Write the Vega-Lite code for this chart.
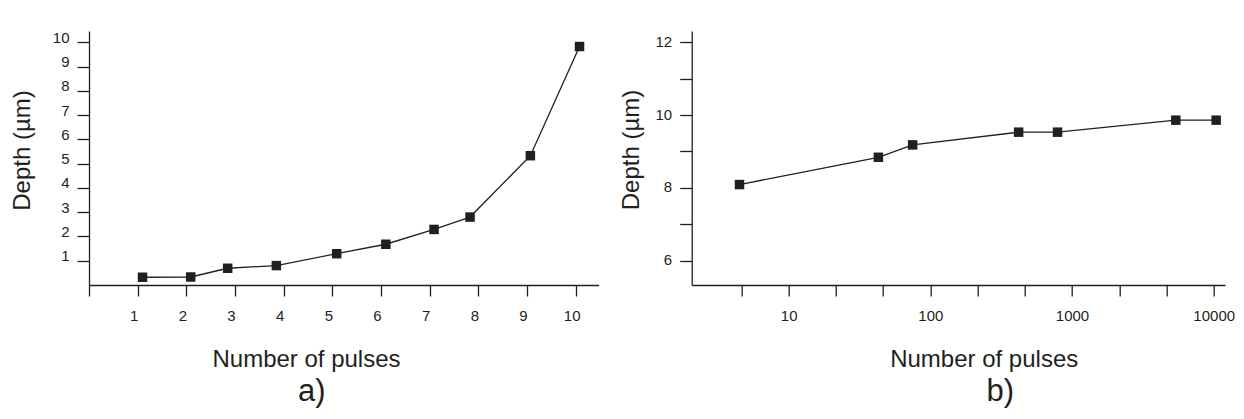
{
  "$schema": "https://vega.github.io/schema/vega-lite/v6.json",
  "background": "white",
  "padding": {"left": 9, "top": 30, "right": 5, "bottom": 5},
  "bounds": "flush",
  "spacing": 92.7,
  "config": {
    "view": {"stroke": null},
    "font": "Liberation Sans",
    "axis": {
      "grid": false,
      "domainColor": "#231f20",
      "tickColor": "#231f20",
      "labelColor": "#231f20",
      "titleColor": "#231f20",
      "domainWidth": 1.3,
      "tickWidth": 1.3,
      "labelFontSize": 15,
      "titleFontSize": 24,
      "titleFontWeight": "normal",
      "labelPadding": 8
    },
    "axisX": {"tickSize": 11, "labelPadding": 12},
    "axisY": {"tickSize": 12},
    "title": {"fontSize": 31, "fontWeight": "normal", "color": "#231f20", "font": "Liberation Sans"}
  },
  "datasets": {
    "a": [
      {"pulses": 1.10, "depth": 0.32},
      {"pulses": 2.09, "depth": 0.33},
      {"pulses": 2.85, "depth": 0.69},
      {"pulses": 3.85, "depth": 0.80},
      {"pulses": 5.09, "depth": 1.29},
      {"pulses": 6.10, "depth": 1.68},
      {"pulses": 7.09, "depth": 2.29},
      {"pulses": 7.83, "depth": 2.80},
      {"pulses": 9.07, "depth": 5.33},
      {"pulses": 10.08, "depth": 9.83}
    ],
    "b": [
      {"pulses": 4.5, "depth": 8.09},
      {"pulses": 43, "depth": 8.84},
      {"pulses": 75, "depth": 9.18},
      {"pulses": 420, "depth": 9.53},
      {"pulses": 790, "depth": 9.53},
      {"pulses": 5400, "depth": 9.86},
      {"pulses": 10400, "depth": 9.86}
    ]
  },
  "hconcat": [
    {
      "width": 509.5,
      "height": 254,
      "data": {"name": "a"},
      "title": {"text": "a)", "orient": "bottom", "anchor": "middle", "frame": "group", "dx": -32, "offset": 6},
      "mark": {
        "type": "line",
        "color": "#231f20",
        "strokeWidth": 1.3,
        "point": {"shape": "square", "size": 90, "filled": true, "color": "#231f20", "opacity": 1}
      },
      "encoding": {
        "x": {
          "field": "pulses",
          "type": "quantitative",
          "scale": {"domain": [0, 10.47], "nice": false, "zero": false},
          "axis": {
            "values": [0, 1, 2, 3, 4, 5, 6, 7, 8, 9, 10],
            "labelExpr": "datum.value == 0 ? '' : datum.label",
            "labelOffset": -4,
            "title": "Number of pulses",
            "titleX": 217,
            "titleY": 81,
            "titleBaseline": "alphabetic"
          }
        },
        "y": {
          "field": "depth",
          "type": "quantitative",
          "scale": {"domain": [0, 10.47], "nice": false, "zero": false},
          "axis": {
            "values": [1, 2, 3, 4, 5, 6, 7, 8, 9, 10],
            "labelOffset": -5,
            "title": "Depth (µm)",
            "titleX": -60,
            "titleY": 119,
            "titleBaseline": "alphabetic"
          }
        }
      }
    },
    {
      "width": 533.3,
      "height": 254,
      "data": {"name": "b"},
      "title": {"text": "b)", "orient": "bottom", "anchor": "middle", "frame": "group", "dx": 42, "offset": 6},
      "mark": {
        "type": "line",
        "color": "#231f20",
        "strokeWidth": 1.3,
        "point": {"shape": "square", "size": 90, "filled": true, "color": "#231f20", "opacity": 1}
      },
      "encoding": {
        "x": {
          "field": "pulses",
          "type": "quantitative",
          "scale": {"type": "log", "domain": [2.07, 12010], "nice": false},
          "axis": {
            "values": [4.6416, 10, 21.544, 46.416, 100, 215.44, 464.16, 1000, 2154.4, 4641.6, 10000],
            "format": "d",
            "labelExpr": "indexof([10, 100, 1000, 10000], datum.value) >= 0 ? datum.label : ''",
            "title": "Number of pulses",
            "titleX": 292,
            "titleY": 81,
            "titleBaseline": "alphabetic"
          }
        },
        "y": {
          "field": "depth",
          "type": "quantitative",
          "scale": {"domain": [5.33, 12.31], "nice": false, "zero": false},
          "axis": {
            "values": [6, 7, 8, 9, 10, 11, 12],
            "format": "d",
            "labelExpr": "datum.value % 2 == 0 ? datum.label : ''",
            "labelOffset": -1,
            "title": "Depth (µm)",
            "titleX": -53,
            "titleY": 118.5,
            "titleBaseline": "alphabetic"
          }
        }
      }
    }
  ]
}
